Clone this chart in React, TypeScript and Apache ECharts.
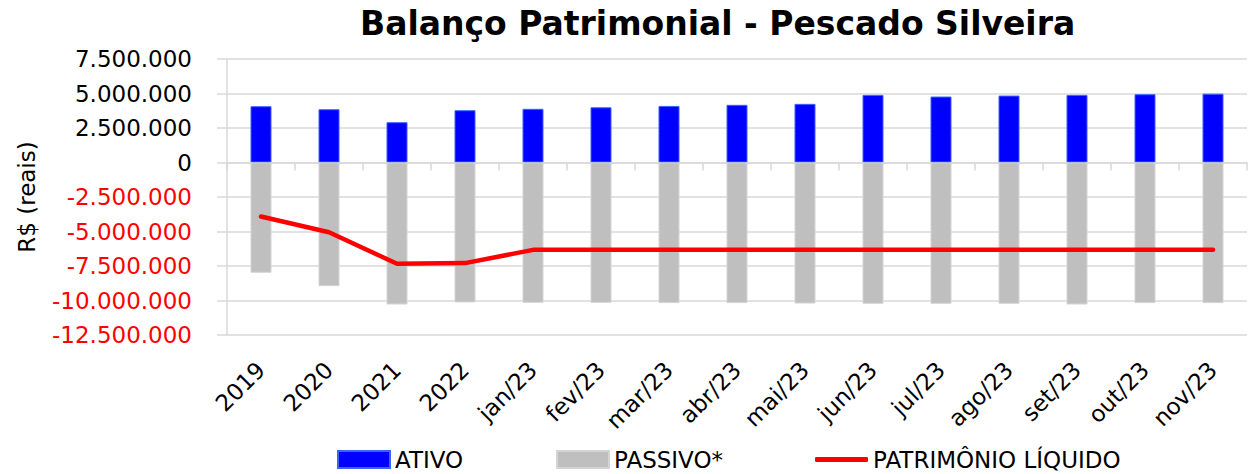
import React, { useEffect, useRef } from "react";
import * as echarts from "echarts";

const categories = ["2019", "2020", "2021", "2022", "jan/23", "fev/23", "mar/23", "abr/23", "mai/23", "jun/23", "jul/23", "ago/23", "set/23", "out/23", "nov/23"];
const ativo = [4080000, 3860000, 2920000, 3790000, 3890000, 4000000, 4100000, 4180000, 4250000, 4900000, 4780000, 4850000, 4900000, 4950000, 4990000];
const passivo = [-7990000, -8960000, -10290000, -10140000, -10170000, -10170000, -10190000, -10190000, -10220000, -10240000, -10240000, -10240000, -10290000, -10190000, -10190000];
const patrimonio = [-3910000, -5050000, -7340000, -7290000, -6330000, -6330000, -6330000, -6330000, -6330000, -6330000, -6330000, -6330000, -6330000, -6330000, -6330000];

const FONT = "DejaVu Sans";

function fmt(v: number): string {
  const neg = v < 0;
  const s = Math.abs(Math.round(v)).toString();
  const out = s.replace(/\B(?=(\d{3})+(?!\d))/g, ".");
  return (neg ? "-" : "") + out;
}

export default function App() {
  const ref = useRef<HTMLDivElement>(null);
  useEffect(() => {
    if (!ref.current) return;
    const chart = echarts.init(ref.current, null, { renderer: "svg" });
    const legendText = { fontFamily: FONT, fontSize: 23, color: "#000" };
    const legendBase = { top: 448, padding: 0, textStyle: legendText, selectedMode: false };
    chart.setOption({
      animation: false,
      backgroundColor: "#fff",
      title: {
        text: "Balanço Patrimonial - Pescado Silveira",
        left: 355,
        top: 2,
        textStyle: { fontFamily: FONT, fontSize: 33, fontWeight: "bold", color: "#000" },
      },
      legend: [
        { ...legendBase, data: [{ name: "ATIVO", icon: "rect" }], left: 337, itemWidth: 52, itemHeight: 17 },
        { ...legendBase, data: [{ name: "PASSIVO*", icon: "rect" }], left: 556, itemWidth: 52, itemHeight: 17 },
        { ...legendBase, data: [{ name: "PATRIMÔNIO LÍQUIDO", icon: "roundRect", itemStyle: { color: "#ff0000" } }], left: 815, itemWidth: 53, itemHeight: 5 },
      ],
      grid: { left: 227, right: 5, top: 59, bottom: 139, containLabel: false },
      xAxis: [
        {
          type: "category",
          data: categories,
          boundaryGap: true,
          axisLine: { show: true, onZero: true, lineStyle: { color: "#d9d9d9", width: 1.5 } },
          axisTick: { show: true, length: 8, lineStyle: { color: "#d9d9d9", width: 1.5 } },
          axisLabel: { show: false },
        },
        {
          type: "category",
          data: categories,
          position: "bottom",
          boundaryGap: true,
          axisLine: { show: false, onZero: false },
          axisTick: { show: false },
          axisLabel: { show: true, rotate: 45, margin: 31, fontFamily: FONT, fontSize: 23, color: "#000", interval: 0 },
        },
      ],
      yAxis: {
        type: "value",
        min: -12500000,
        max: 7500000,
        interval: 2500000,
        name: "R$ (reais)",
        nameLocation: "middle",
        nameGap: 189,
        nameRotate: 90,
        nameTextStyle: { fontFamily: FONT, fontSize: 23, color: "#000" },
        axisLine: { show: true, lineStyle: { color: "#d9d9d9", width: 1.5 } },
        axisTick: { show: true, inside: false, length: 10, lineStyle: { color: "#d9d9d9", width: 1.5 } },
        splitLine: { show: true, lineStyle: { color: "#d9d9d9", width: 1.5 } },
        axisLabel: {
          margin: 35,
          fontFamily: FONT,
          fontSize: 23,
          formatter: (v: number) => (v < 0 ? "{neg|" + fmt(v) + "}" : "{pos|" + fmt(v) + "}"),
          rich: {
            neg: { color: "#ff0000", fontFamily: FONT, fontSize: 23 },
            pos: { color: "#000000", fontFamily: FONT, fontSize: 23 },
          },
        },
      },
      series: [
        {
          name: "ATIVO",
          type: "bar",
          data: ativo,
          barWidth: 21,
          barGap: "-100%",
          itemStyle: { color: "#0000ff", borderColor: "#3a64ff", borderWidth: 1 },
        },
        {
          name: "PASSIVO*",
          type: "bar",
          data: passivo,
          barWidth: 21,
          barGap: "-100%",
          itemStyle: { color: "#bfbfbf", borderColor: "#d4d4d4", borderWidth: 1 },
        },
        {
          name: "PATRIMÔNIO LÍQUIDO",
          type: "line",
          data: patrimonio,
          symbol: "none",
          showSymbol: false,
          z: 5,
          lineStyle: { color: "#ff0000", width: 4.5, cap: "round", join: "round" },
          itemStyle: { color: "#ff0000" },
        },
      ],
    });
    return () => chart.dispose();
  }, []);
  return <div ref={ref} style={{ position: "fixed", left: 0, top: 0, width: 1252, height: 474 }} />;
}
